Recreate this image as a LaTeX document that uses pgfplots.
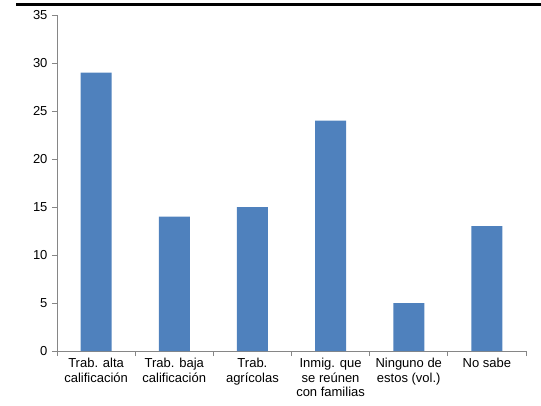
\documentclass[border=0pt]{standalone}
\usepackage{pgfplots}
\pgfplotsset{compat=1.18}
\usepackage{fontspec}
\setmainfont{Liberation Sans}
\definecolor{barblue}{HTML}{4F81BD}
\definecolor{axgray}{HTML}{868686}

\begin{document}
\begin{tikzpicture}[x=1pt,y=1pt]
  \useasboundingbox (-57,-54) rectangle (484,351);
  \fill[black] (-41,344.5) rectangle (484,347.5);
  \begin{axis}[
    at={(0,0)}, anchor=origin,
    scale only axis,
    width=469pt, height=336pt,
    xmin=0, xmax=6,
    ymin=0, ymax=35,
    ytick={0,5,...,35},
    xtick={0.5,1.5,...,5.5},
    xticklabels={Trab. alta\\calificación, Trab. baja\\calificación, Trab.\\agrícolas, Inmig. que\\se reúnen\\con familias, Ninguno de\\estos (vol.), No sabe},
    minor xtick={0,1,...,6},
    major x tick style={draw=none},
    minor tick length=5pt,
    major tick length=5pt,
    tick align=outside,
    tick style={axgray, line width=0.7pt},
    axis x line*=bottom,
    axis y line*=left,
    axis line style={axgray, line width=0.9pt, -},
    ticklabel style={font=\fontsize{13}{14.5}\selectfont},
    xticklabel style={align=center, yshift=1pt},
    yticklabel style={xshift=-1pt},
    /pgf/number format/assume math mode=true,
    ybar, bar width=31pt,
  ]
    \addplot[fill=barblue, draw=none] coordinates {
      (0.5,29) (1.5,14) (2.5,15) (3.5,24) (4.5,5) (5.5,13)
    };
  \end{axis}
\end{tikzpicture}
\end{document}
